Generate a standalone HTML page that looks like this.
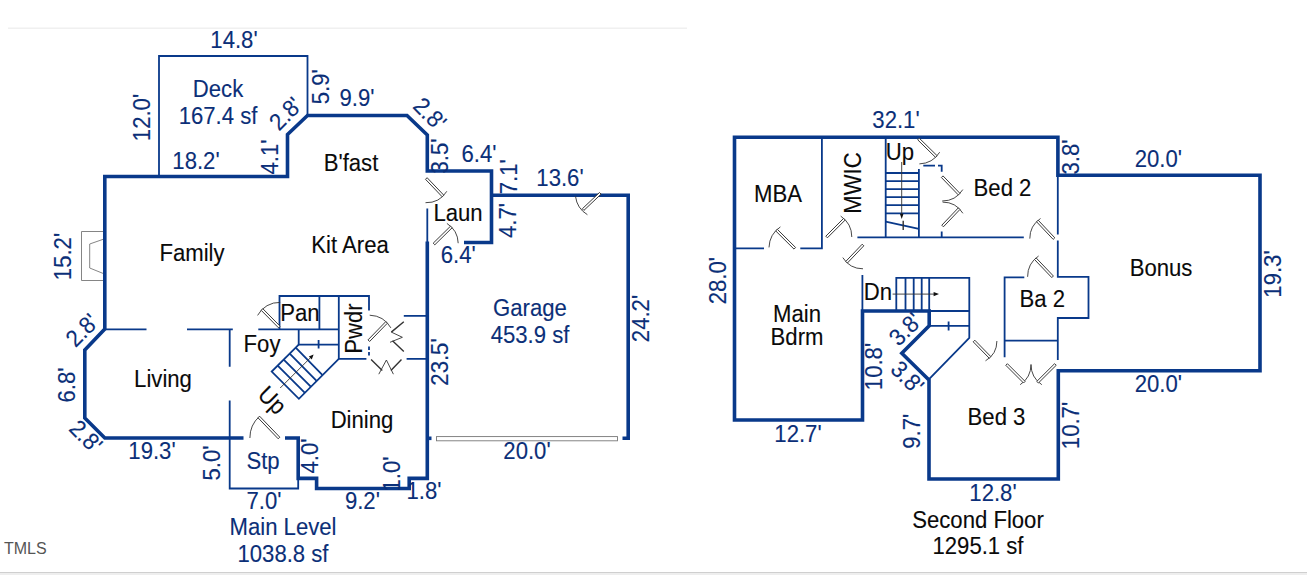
<!DOCTYPE html>
<html lang="en">
<head>
<meta charset="utf-8">
<title>Floor Plan</title>
<style>
html,body{margin:0;padding:0;background:#fff;}
body{width:1307px;height:575px;overflow:hidden;position:relative;}
svg{position:absolute;left:0;top:0;display:block;}
text{font-family:"Liberation Sans",Arial,sans-serif;font-size:23.8px;stroke-width:0.12;stroke-linejoin:round;}
.b{fill:#0b2f78;stroke:#0b2f78;}
.k{fill:#0a0a0a;stroke:#0a0a0a;}
.m{text-anchor:middle;}
.W{stroke:#09398a;stroke-width:3.6;fill:none;stroke-linejoin:miter;stroke-linecap:butt;}
.t{stroke:#09398a;stroke-width:1.8;fill:none;stroke-linecap:butt;}
.a{stroke:#333;stroke-width:0.9;fill:none;}
.d{stroke:#333;stroke-width:1.4;fill:none;}
.lf{stroke:#3a3a3a;stroke-width:1;fill:#fff;}
.g{stroke:#777;stroke-width:0.9;fill:none;}
</style>
</head>
<body>
<svg width="1307" height="575" viewBox="0 0 1307 575">
<rect x="0" y="0" width="1307" height="575" fill="#ffffff"/>
<line x1="8" y1="28.3" x2="687" y2="28.3" stroke="#f0f0f0" stroke-width="1.4"/>
<rect x="0" y="572" width="1307" height="1" fill="#cfcfcf"/>
<rect x="0" y="573" width="1307" height="2" fill="#eeeeee"/>
<g id="main-level">
<path class="t" d="M159,176.5 V56 H307.5 V115.5"/>
<path class="g" d="M104,231.5 H81.5 V280.5 H104"/>
<path class="g" d="M104,239 L89.7,244 V268 L104,273.8"/>
<path class="W" d="M243.5,438 H104.8 L84.8,418 V350 L104.8,329 V176.5 H287.5 V134.5 L307.5,115.5 H407 L427.3,135 V171 H491.5 V242.5 H464"/>
<path class="W" d="M491.5,195.2 H628.2 V438.3 H622.5"/>
<path class="W" d="M427.3,241.5 V478.4 H409.2 V488.5 H316.6 V478.4 H298.2 V438 H285"/>
<path class="W" d="M427.3,438.3 H431.5"/>
<path class="t" d="M427.3,208.5 V242"/>
<rect x="436.5" y="436.6" width="181" height="4.2" fill="#fff" stroke="#777" stroke-width="0.9"/>
<path class="t" d="M104.8,329.3 H146.5 M187,329.3 H232.8 M229.7,329.3 V366.7 M229.7,400.5 V488.5 H298.2 V478"/>
<path class="t" d="M258.3,329.3 H338.8 M279.5,329.3 V296 H369 V310.5 M319.4,296 V329.3 M338.8,296 V358.8 H366.4 M298.7,329.3 V344.6 H338.8 M318.6,340 V348.4"/>
<path class="t" d="M369,346.5 V350 M369,352 V355.5"/>
<path class="t" d="M403.8,315.8 H427.3 M406.6,358.8 H427.3"/>
<path class="t" d="M298.7,344.6 L271.7,371.6 L298.9,398.8 L338.8,358.8"/>
<path class="t" d="M295.7,347.6 L322.3,374.9 M289.7,353.6 L316.6,380.8 M283.7,359.6 L310.8,386.7 M277.7,365.6 L304.9,392.8"/>
<line class="a" x1="280.2" y1="388" x2="311.5" y2="356.7"/>
<path d="M313.6,354.6 L311.8,359.4 L308.8,356.4 Z" fill="#111"/>
<path class="a" d="M249.9,438.0 A29.1,29.1 0 0 1 259.5,416.3"/>
<polygon class="lf" points="279.8,437.2 259.6,416.2 258.0,417.8 278.2,438.8"/>
<path class="a" d="M257.6,315.4 A24.6,24.6 0 0 1 280.2,302.4"/>
<polygon class="lf" points="280.1,326.2 262.8,308.7 261.2,310.3 278.5,327.8"/>
<path class="a" d="M446.8,191.3 A24.2,24.2 0 0 1 425.5,202.7"/>
<polygon class="lf" points="425.5,179.3 442.2,196.8 443.8,195.2 427.1,177.7"/>
<path class="a" d="M458.2,243.2 A24.3,24.3 0 0 0 446.9,223.4"/>
<polygon class="lf" points="434.8,244.8 452.1,227.8 450.5,226.2 433.2,243.2"/>
<path class="a" d="M575.5,196.3 A25.0,25.0 0 0 0 587.4,214.7"/>
<polygon class="lf" points="599.5,192.5 582.3,208.8 583.9,210.4 601.1,194.1"/>
<path class="a" d="M369.7,315.2 A25.5,25.5 0 0 1 390.9,327.9"/>
<polygon class="lf" points="369.6,341.5 387.4,323.2 385.8,321.6 368.0,339.9"/>
<path class="d" d="M403.8,321.7 L391.3,332.1 M403.8,351.6 L392.5,340.8"/>
<path class="a" d="M391.3,332.1 L402.4,337.3 L390,342.3"/>
<path class="d" d="M371.1,359.5 L382.3,370.4 M401.5,359.5 L390.9,370.4"/>
<path class="a" d="M378.8,374.2 L386.4,360 L393.4,374.2"/>
</g>
<g id="second-floor">
<path class="W" d="M734.5,137.2 H1057.9 V175.3 H1260 V370.7 H1058.3 V479 H929 V380 L901.8,353.3 L929.2,325.8 V311 H862.5 V420 H734.5 Z"/>
<path class="t" d="M862.4,275 V311"/>
<path class="t" d="M821.9,137 V248.3 H800.3 M764,248.3 H734.5"/>
<path class="t" d="M885.7,137 V237.4 M918.9,169.1 V237.4 M857.4,237.4 H1023.8"/>
<path class="t" d="M885.7,173.0 H918.9 M885.7,181.1 H918.9 M885.7,189.1 H918.9 M885.7,197.2 H918.9 M885.7,205.2 H918.9 M885.7,213.3 H918.9"/>
<path class="t" d="M885.7,221.6 L918.9,228.8"/>
<line class="a" x1="901.7" y1="162" x2="901.7" y2="215"/>
<line class="d" x1="903.2" y1="220.8" x2="903.2" y2="229.9"/>
<path d="M901.7,219 L899.9,213.8 L903.5,213.8 Z" fill="#111"/>
<path class="t" d="M923.3,165.7 H935 M938,165.7 H941.7 V171.7 M941.7,231.5 V237.4"/>
<path class="t" d="M1057.8,175.3 V234.5 M1057.8,240.5 V276.8 H1088.5 V318 H1057.8 V360"/>
<path class="t" d="M1024.3,277.3 H1004.6 V357.2 M1004.6,340.6 H1057.8"/>
<path class="t" d="M929.2,311 H969.3 M896.3,311 V277.8 H969.3 V338 L928.6,379.6 M905.5,277.8 V311 M913.7,277.8 V311 M921.7,277.8 V311 M929.2,277.8 V311 M929.2,325.8 H969.3 M948.6,321.4 V330.6"/>
<line class="a" x1="892.6" y1="294.1" x2="936" y2="294.1"/>
<path d="M939,294.1 L933.6,291.9 L933.6,296.3 Z" fill="#111"/>
<path class="a" d="M769.0,247.4 A25.8,25.8 0 0 1 780.4,226.9"/>
<polygon class="lf" points="795.6,247.5 777.3,229.3 775.7,230.9 794.0,249.1"/>
<path class="a" d="M840.7,216.1 A25.2,25.2 0 0 1 851.8,237.0"/>
<polygon class="lf" points="827.4,237.8 845.2,220.0 843.6,218.4 825.8,236.2"/>
<path class="a" d="M842.8,257.6 A23.8,23.8 0 0 0 863.0,268.8"/>
<polygon class="lf" points="862.2,244.2 845.8,261.4 847.4,263.0 863.8,245.8"/>
<path class="a" d="M939.7,152.2 A25.0,25.0 0 0 1 919.4,163.9"/>
<polygon class="lf" points="917.7,139.8 935.5,157.3 937.1,155.7 919.3,138.2"/>
<path class="a" d="M962.8,189.6 A24.3,24.3 0 0 1 942.2,201.0"/>
<polygon class="lf" points="941.4,177.5 958.3,194.9 959.9,193.3 943.0,175.9"/>
<path class="a" d="M962.9,213.3 A23.9,23.9 0 0 0 942.6,202.1"/>
<polygon class="lf" points="943.4,226.8 959.9,209.5 958.3,207.9 941.8,225.2"/>
<path class="a" d="M1029.8,238.6 A24.2,24.2 0 0 1 1040.5,218.5"/>
<polygon class="lf" points="1054.8,237.8 1038.2,220.2 1036.6,221.8 1053.2,239.4"/>
<path class="a" d="M1027.6,276.8 A25.0,25.0 0 0 1 1038.6,256.0"/>
<polygon class="lf" points="1053.4,276.0 1036.1,257.9 1034.5,259.5 1051.8,277.6"/>
<path class="a" d="M996.9,341.0 A22.9,22.9 0 0 1 985.5,360.8"/>
<polygon class="lf" points="973.2,341.8 989.2,358.2 990.8,356.6 974.8,340.2"/>
<path class="a" d="M1031.0,364.5 A24.4,24.4 0 0 1 1020.2,384.7"/>
<polygon class="lf" points="1005.8,365.3 1023.5,383.0 1025.1,381.4 1007.4,363.7"/>
<path class="a" d="M1031.0,364.5 A24.4,24.4 0 0 0 1041.8,384.7"/>
<polygon class="lf" points="1054.6,363.7 1036.8,381.4 1038.4,383.0 1056.2,365.3"/>
</g>
<g id="labels">
<text class="b m" transform="translate(234,48) scale(0.93,1)">14.8'</text>
<text class="b m" transform="translate(218,97) scale(0.93,1)">Deck</text>
<text class="b m" transform="translate(218,123.7) scale(0.93,1)">167.4 sf</text>
<text class="b m" transform="translate(150.3,117.5) rotate(-90) scale(0.93,1)">12.0'</text>
<text class="b m" transform="translate(328.5,86.7) rotate(-90) scale(0.93,1)">5.9'</text>
<text class="b m" transform="translate(357,106) scale(0.93,1)">9.9'</text>
<text class="b m" transform="translate(291.3,119.3) rotate(-45) scale(0.93,1)">2.8'</text>
<text class="b m" transform="translate(424,119.6) rotate(45) scale(0.93,1)">2.8'</text>
<text class="b m" transform="translate(278.3,157) rotate(-90) scale(0.93,1)">4.1'</text>
<text class="b m" transform="translate(196,169) scale(0.93,1)">18.2'</text>
<text class="b m" transform="translate(448,156) rotate(-90) scale(0.93,1)">3.5'</text>
<text class="b m" transform="translate(479,162) scale(0.93,1)">6.4'</text>
<text class="b m" transform="translate(517.3,176.7) rotate(-90) scale(0.93,1)">7.1'</text>
<text class="b m" transform="translate(560,186) scale(0.93,1)">13.6'</text>
<text class="b m" transform="translate(516,220.5) rotate(-90) scale(0.93,1)">4.7'</text>
<text class="b m" transform="translate(458.2,263.2) scale(0.93,1)">6.4'</text>
<text class="b m" transform="translate(70.5,256.5) rotate(-90) scale(0.93,1)">15.2'</text>
<text class="b m" transform="translate(87.8,336) rotate(-45) scale(0.93,1)">2.8'</text>
<text class="b m" transform="translate(75,385) rotate(-90) scale(0.93,1)">6.8'</text>
<text class="b m" transform="translate(80,442) rotate(45) scale(0.93,1)">2.8'</text>
<text class="b m" transform="translate(152,459) scale(0.93,1)">19.3'</text>
<text class="b m" transform="translate(220,463) rotate(-90) scale(0.93,1)">5.0'</text>
<text class="b m" transform="translate(264,508.5) scale(0.93,1)">7.0'</text>
<text class="b m" transform="translate(318,456) rotate(-90) scale(0.93,1)">4.0'</text>
<text class="b m" transform="translate(362.4,509) scale(0.93,1)">9.2'</text>
<text class="b m" transform="translate(400,474) rotate(-90) scale(0.93,1)">1.0'</text>
<text class="b m" transform="translate(424,499.2) scale(0.93,1)">1.8'</text>
<text class="b m" transform="translate(448,362) rotate(-90) scale(0.93,1)">23.5'</text>
<text class="b m" transform="translate(649,318.5) rotate(-90) scale(0.93,1)">24.2'</text>
<text class="b m" transform="translate(527,459) scale(0.93,1)">20.0'</text>
<text class="b m" transform="translate(530,316) scale(0.93,1)">Garage</text>
<text class="b m" transform="translate(530,342.7) scale(0.93,1)">453.9 sf</text>
<text class="b m" transform="translate(283,535) scale(0.93,1)">Main Level</text>
<text class="b m" transform="translate(283,562) scale(0.93,1)">1038.8 sf</text>
<text class="b m" transform="translate(263,469) scale(0.93,1)">Stp</text>
<text class="k m" transform="translate(351,171) scale(0.93,1)">B'fast</text>
<text class="k m" transform="translate(192,261) scale(0.93,1)">Family</text>
<text class="k m" transform="translate(350,253) scale(0.93,1)">Kit Area</text>
<text class="k m" transform="translate(458,221) scale(0.93,1)">Laun</text>
<text class="k m" transform="translate(300,321) scale(0.93,1)">Pan</text>
<text class="k m" transform="translate(262,352) scale(0.93,1)">Foy</text>
<text class="k m" transform="translate(362.3,328.5) rotate(-90) scale(0.93,1)">Pwdr</text>
<text class="k m" transform="translate(163,387) scale(0.93,1)">Living</text>
<text class="k m" transform="translate(266.6,406) rotate(45) scale(0.93,1)">Up</text>
<text class="k m" transform="translate(362,428) scale(0.93,1)">Dining</text>
<text class="b m" transform="translate(896,128) scale(0.93,1)">32.1'</text>
<text class="b m" transform="translate(1079,157) rotate(-90) scale(0.93,1)">3.8'</text>
<text class="b m" transform="translate(1158.4,167) scale(0.93,1)">20.0'</text>
<text class="b m" transform="translate(1280.5,274) rotate(-90) scale(0.93,1)">19.3'</text>
<text class="b m" transform="translate(726,280.7) rotate(-90) scale(0.93,1)">28.0'</text>
<text class="b m" transform="translate(882.3,366.5) rotate(-90) scale(0.93,1)">10.8'</text>
<text class="b m" transform="translate(911,335) rotate(-45) scale(0.93,1)">3.8'</text>
<text class="b m" transform="translate(901.5,383) rotate(45) scale(0.93,1)">3.8'</text>
<text class="b m" transform="translate(919.7,431.2) rotate(-90) scale(0.93,1)">9.7'</text>
<text class="b m" transform="translate(798,442) scale(0.93,1)">12.7'</text>
<text class="b m" transform="translate(1078.5,425.5) rotate(-90) scale(0.93,1)">10.7'</text>
<text class="b m" transform="translate(1158.4,392) scale(0.93,1)">20.0'</text>
<text class="b m" transform="translate(993,501) scale(0.93,1)">12.8'</text>
<text class="k m" transform="translate(778,202) scale(0.93,1)">MBA</text>
<text class="k m" transform="translate(861,183) rotate(-90) scale(0.93,1)">MWIC</text>
<text class="k m" transform="translate(900,159.8) scale(0.93,1)">Up</text>
<text class="k m" transform="translate(1002.5,195.7) scale(0.93,1)">Bed 2</text>
<text class="k m" transform="translate(1161,275.6) scale(0.93,1)">Bonus</text>
<text class="k m" transform="translate(797,322) scale(0.93,1)">Main</text>
<text class="k m" transform="translate(797,345) scale(0.93,1)">Bdrm</text>
<text class="k m" transform="translate(878,300) scale(0.93,1)">Dn</text>
<text class="k m" transform="translate(1042.2,306.5) scale(0.93,1)">Ba 2</text>
<text class="k m" transform="translate(996.5,425) scale(0.93,1)">Bed 3</text>
<text class="k m" transform="translate(978,528) scale(0.93,1)">Second Floor</text>
<text class="k m" transform="translate(978,554) scale(0.93,1)">1295.1 sf</text>
<text x="4" y="554" style="font-size:16px;fill:#555;stroke:none">TMLS</text>
</g>
</svg>
</body>
</html>
